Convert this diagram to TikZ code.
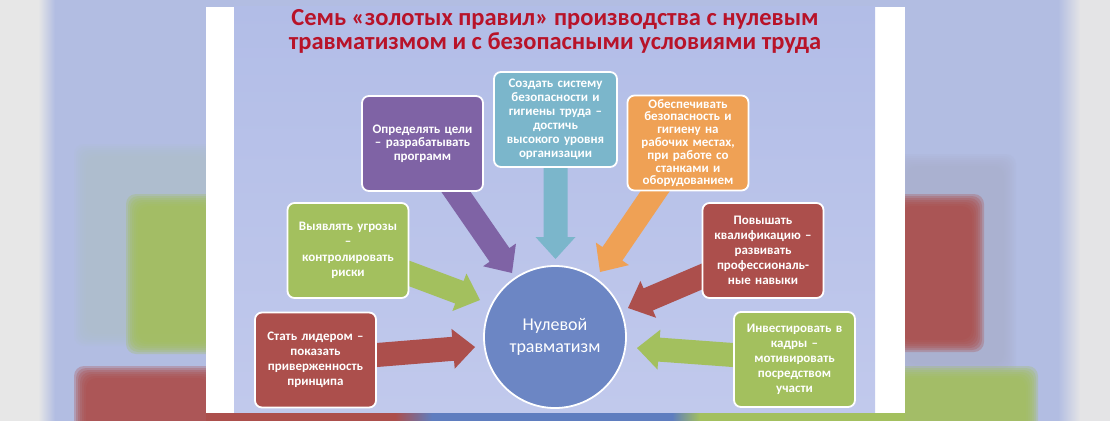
\documentclass[tikz,border=0pt]{standalone}
\usepackage{fontspec}
\setmainfont{Carlito}
\usetikzlibrary{calc}
\pgfdeclarelayer{back}
\pgfdeclarelayer{arr}
\pgfsetlayers{back,arr,main}
\definecolor{bgl}{HTML}{B2BDE2}
\definecolor{greyl}{HTML}{E7E7E7}
\definecolor{greyr}{HTML}{E4E4E6}
\definecolor{slidetop}{HTML}{B2BDE7}
\definecolor{slidebot}{HTML}{C1C9EC}
\definecolor{cpur}{HTML}{7F63A5}
\definecolor{cteal}{HTML}{7BB6CB}
\definecolor{corg}{HTML}{EFA155}
\definecolor{cred}{HTML}{AC4F4C}
\definecolor{cgrn}{HTML}{A3C05E}
\definecolor{ccir}{HTML}{6C86C4}
\definecolor{ctitle}{HTML}{B81329}
\definecolor{cblue}{HTML}{5F7DBF}
\definecolor{cteal2}{HTML}{AEBFC9}
\definecolor{cgrey2}{HTML}{AAAFCB}
\newcommand\blurbox[6]{%
  \foreach \k in {-6,-4,...,6}
    \fill[#5, opacity=#6, rounded corners=10pt] ({#1-\k},{#2-\k}) rectangle ({#3+\k},{#4+\k});}
\newcommand\bigarr[3]{%
  \coordinate (hb) at ($(#2)!22pt!(#1)$);
  \fill[#3] ($(#1)!12pt!90:(#2)$) -- ($(hb)!12pt!90:(#2)$) -- ($(hb)!20pt!90:(#2)$) -- (#2)
    -- ($(hb)!20pt!-90:(#2)$) -- ($(hb)!12pt!-90:(#2)$) -- ($(#1)!12pt!-90:(#2)$) -- cycle;}
\begin{document}
\begin{tikzpicture}[x=1pt,y=-1pt,
  box/.style={draw=white, line width=1.8pt, rounded corners=7pt, minimum width=121pt,
    minimum height=95pt, inner sep=0pt, text width=118pt, align=center, text=white},
  boxfont/.style={font=\bfseries\fontsize{13}{#1}\selectfont},
  titlestyle/.style={text=ctitle, align=center, inner sep=0pt,
    font=\bfseries\fontsize{24.5}{24}\selectfont},
  hub/.style={circle, draw=white, line width=1.8pt, fill=ccir, minimum size=142pt,
    inner sep=0pt, text=white, align=center, font=\fontsize{18}{22}\selectfont}]
\useasboundingbox (0,0) rectangle (1110,420);
\begin{pgfonlayer}{back}
  \fill[bgl] (-5,-5) rectangle (1115,425);
  \fill[greyl] (-5,-5) rectangle (38,425);
  \shade[left color=greyl, right color=bgl] (38,-5) rectangle (55,425);
  \shade[left color=bgl, right color=greyr] (1058,-5) rectangle (1080,425);
  \fill[greyr] (1080,-5) rectangle (1115,425);
  \blurbox{80}{150}{215}{340}{cteal2}{0.15}
  \blurbox{900}{160}{1010}{370}{cgrey2}{0.15}
  \blurbox{132}{200}{215}{348}{cgrn}{0.3}
  \blurbox{80}{372}{215}{440}{cred}{0.3}
  \blurbox{895}{200}{978}{346}{cred}{0.3}
  \blurbox{895}{372}{1032}{440}{cgrn}{0.3}
  \fill[cred] (206,412) rectangle (395,425);
  \shade[left color=cred, right color=cblue] (395,412) rectangle (432,425);
  \fill[cblue] (432,412) rectangle (672,425);
  \shade[left color=cblue, right color=cgrn] (672,412) rectangle (700,425);
  \fill[cgrn] (700,412) rectangle (905,425);
  \fill[white] (206,7) rectangle (905,413);
  \shade[top color=slidetop, bottom color=slidebot] (234,7) rectangle (875,412);
\end{pgfonlayer}

\node[titlestyle] (title) at (555,31) {Семь «золотых правил» производства с нулевым\\травматизмом и с безопасными условиями труда};

\node[box, boxfont=13.5, fill=cpur] (pur) at (422.5,143.5) {Определять цели\\– разрабатывать\\программ};
\node[box, boxfont=14, fill=cteal, minimum width=123pt] (teal) at (555.5,119.5) {Создать систему\\безопасности и\\гигиены труда –\\достичь\\высокого уровня\\организации};
\node[box, boxfont=12.8, fill=corg] (org) at (688,143) {Обеспечивать\\безопасность и\\гигиену на\\рабочих местах,\\при работе со\\станками и\\оборудованием};
\node[box, boxfont=15.5, fill=cgrn] (gl) at (348,250.5) {Выявлять угрозы\\–\\контролировать\\риски};
\node[box, boxfont=15, fill=cred] (rl) at (315.5,360) {Стать лидером –\\показать\\приверженность\\принципа};
\node[box, boxfont=15, fill=cred] (rr) at (763,250.5) {Повышать\\квалификацию –\\развивать\\профессиональ-\\ные навыки};
\node[box, boxfont=15, fill=cgrn] (gr) at (794.5,359.5) {Инвестировать в\\кадры –\\мотивировать\\посредством\\участи};

\node[hub] (hub) at (555,337) {Нулевой\\травматизм};

\coordinate (tpur) at (512,273);
\coordinate (tteal) at (555.5,259);
\coordinate (torg) at (600,272);
\coordinate (tgl) at (480,300);
\coordinate (trl) at (475,347);
\coordinate (trr) at (628,308);
\coordinate (tgr) at (637,348);

\begin{pgfonlayer}{arr}
  \bigarr{pur}{tpur}{cpur}
  \bigarr{teal}{tteal}{cteal}
  \bigarr{org}{torg}{corg}
  \bigarr{gl}{tgl}{cgrn}
  \bigarr{rl}{trl}{cred}
  \bigarr{rr}{trr}{cred}
  \bigarr{gr}{tgr}{cgrn}
\end{pgfonlayer}
\end{tikzpicture}
\end{document}
